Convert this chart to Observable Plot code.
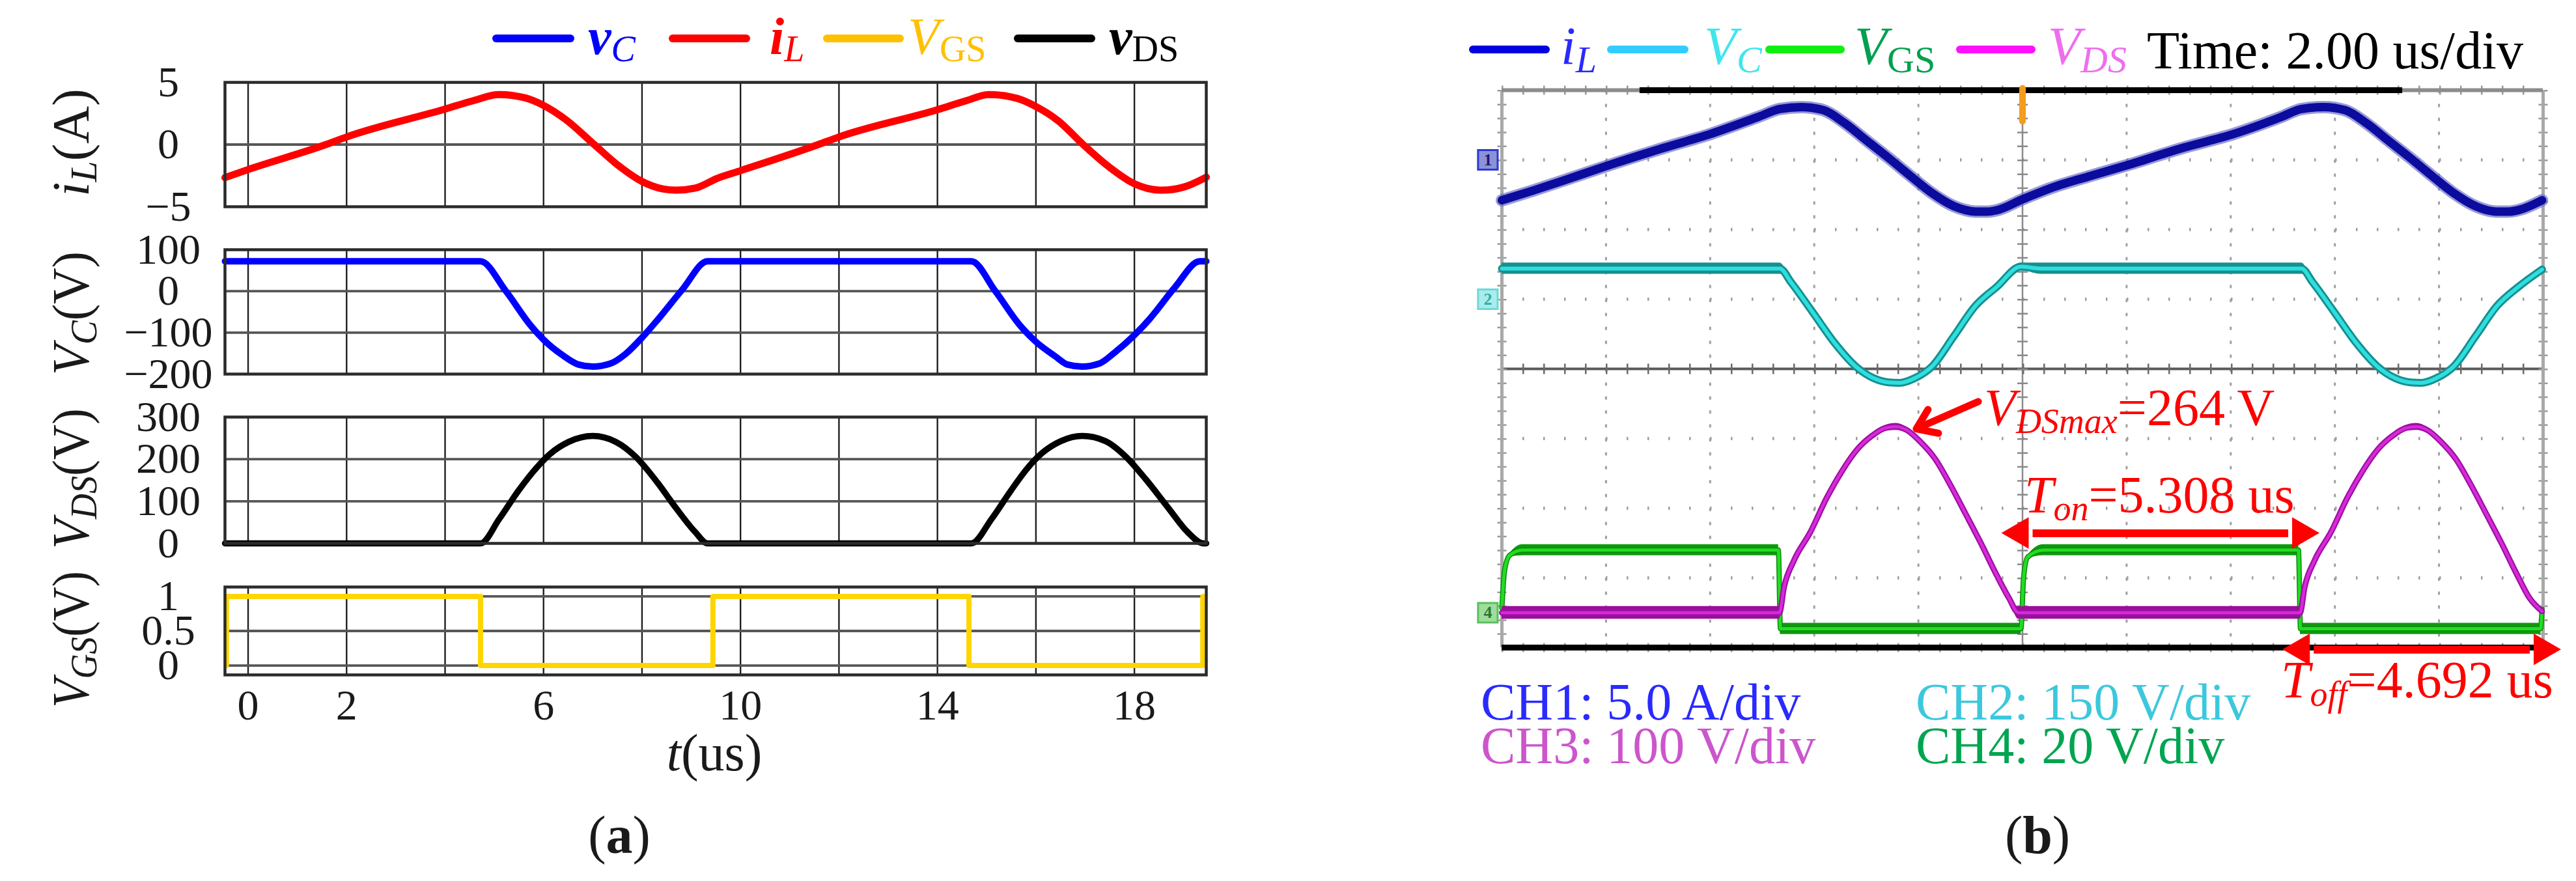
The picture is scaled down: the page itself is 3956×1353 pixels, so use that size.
<!DOCTYPE html>
<html><head><meta charset="utf-8">
<script src="https://cdn.jsdelivr.net/npm/d3@7"></script>
<script src="https://cdn.jsdelivr.net/npm/@observablehq/plot@0.6"></script>
<style>
html,body{margin:0;padding:0;background:#fff;}
#root{position:relative;width:3956px;height:1353px;overflow:hidden;background:#fff;}
#root > svg{position:absolute;left:0;top:0;}
</style></head><body><div id="root"></div>
<script>
// ---------------- DATA: (a) simulation ----------------
const simTDomain = [-0.47, 19.46];          // t (us)
const simGridT = [0, 2, 4, 6, 8, 10, 12, 14, 16, 18];
const simTickLabels = [0, 2, 6, 10, 14, 18];

const iLTicks = [-5, 0, 5];
const vCTicks = [-200, -100, 0, 100];
const vDSTicks = [0, 100, 200, 300];
const vGSTicks = [0, 0.5, 1];

// [t (us), value]
const iLSim = [[-0.47,-2.66],[0,-2.01],[1.58,0],[2,0.61],[4,2.85],[4.59,3.55],[5.1,4.02],[5.62,3.76],[6.0,3.15],[6.45,2.01],[7.03,0],[7.54,-1.75],[8.0,-2.97],[8.44,-3.58],[8.69,-3.67],[9.08,-3.5],[9.53,-2.71],[10.0,-2.1],[11.58,0],[12.0,0.61],[14.0,2.8],[14.59,3.53],[15.04,4.02],[15.62,3.71],[16.0,3.06],[16.45,1.92],[16.96,0],[17.47,-1.75],[18.0,-3.15],[18.56,-3.67],[19.01,-3.41],[19.46,-2.62]];
const vCSim = [[-0.47,72],[4.72,72],[5.23,1],[5.74,-83],[6.0,-117],[6.38,-154],[6.71,-177],[7.0,-182],[7.35,-175],[7.67,-151],[8.0,-112],[8.31,-70],[8.82,4],[9.33,72],[14.69,72],[15.17,1],[15.68,-83],[16.0,-122],[16.38,-156],[16.64,-177],[16.94,-182],[17.28,-175],[17.6,-148],[18.0,-106],[18.31,-67],[18.82,9],[19.33,72],[19.46,72]];
const vDSSim = [[-0.47,0],[4.72,0],[5.1,58],[5.49,125],[5.87,181],[6.13,212],[6.51,241],[7.0,255],[7.47,241],[7.86,207],[8.31,145],[8.69,84],[9.08,27],[9.33,0],[14.69,0],[15.1,58],[15.49,125],[15.81,176],[16.13,215],[16.51,243],[16.94,255],[17.41,243],[17.79,210],[18.24,151],[18.69,84],[19.08,27],[19.4,0],[19.46,0]];
const vGSSim = [[-0.44,0],[-0.44,1],[4.72,1],[4.72,0],[9.44,0],[9.44,1],[14.64,1],[14.64,0],[19.39,0],[19.39,1]];

// ---------------- DATA: (b) oscilloscope ----------------
const scopeTDomain = [0, 20];               // 2.00 us/div, 10 div
const scopeDivT = [2, 4, 6, 8, 12, 14, 16, 18];
const scopeDivY = [-3, -2, -1, 1, 2, 3];
const channels = {
  ch1: {scale: 5,   off: 3},     // iL, 5.0 A/div
  ch2: {scale: 150, off: 1},     // VC, 150 V/div
  ch3: {scale: 100, off: -3.5},  // VDS, 100 V/div
  ch4: {scale: 20,  off: -3.5}   // VGS, 20 V/div
};
// [t (us), value]
const iLScope = [[0,-2.9],[0.6,-2.2],[1.17,-1.5],[2.0,-0.45],[3.1,0.85],[4.0,1.85],[4.93,3.09],[5.34,3.65],[5.76,3.79],[6.18,3.56],[6.59,2.62],[7.01,1.37],[7.43,0.13],[7.84,-1.13],[8.26,-2.38],[8.68,-3.32],[9.09,-3.71],[9.3,-3.72],[9.51,-3.61],[9.99,-2.85],[10.51,-2.07],[11.26,-1.2],[12.04,-0.35],[13.07,0.85],[14.05,1.85],[14.95,3.05],[15.36,3.65],[15.79,3.79],[16.2,3.56],[16.61,2.62],[17.03,1.37],[17.45,0.13],[17.86,-1.13],[18.28,-2.38],[18.7,-3.32],[19.1,-3.71],[19.32,-3.72],[19.55,-3.58],[19.98,-2.9]];
// [t (us), value, noise half-width]
const vCScope = [[0,66,12],[5.34,66,12],[5.55,37,2],[5.97,-28,0],[6.39,-94,0],[6.8,-145,0],[7.14,-170,4],[7.43,-179,6],[7.64,-180,7],[7.93,-170,4],[8.26,-145,0],[8.68,-80,0],[9.09,-15,0],[9.51,27,0],[9.97,70,8],[10.35,66,12],[15.36,66,12],[15.57,37,2],[15.99,-28,0],[16.41,-94,0],[16.82,-145,0],[17.16,-170,4],[17.45,-179,6],[17.66,-180,7],[17.95,-170,4],[18.28,-145,0],[18.7,-80,0],[19.11,-15,0],[19.53,27,0],[19.98,64,6]];
const vDSScope = [[0,0,9],[5.33,0,9],[5.42,37,4],[5.61,75,0],[5.92,115,0],[6.24,165,0],[6.53,203,0],[6.82,234,0],[7.11,254,2],[7.36,265,4],[7.57,267,5],[7.78,262,4],[8.03,246,2],[8.32,221,0],[8.61,184,0],[8.9,143,0],[9.2,100,0],[9.49,56,0],[9.74,21,0],[9.92,0,9],[15.33,0,9],[15.42,37,4],[15.61,75,0],[15.92,115,0],[16.24,165,0],[16.53,203,0],[16.82,234,0],[17.11,254,2],[17.36,265,4],[17.57,267,5],[17.78,262,4],[18.03,246,2],[18.32,221,0],[18.61,184,0],[18.9,143,0],[19.2,100,0],[19.49,56,0],[19.74,21,0],[19.98,2,0]];
const vGSScope = [[0,1.4,0],[0.05,12,0],[0.15,16.5,0.5],[0.4,18,1.6],[5.31,18,1.6],[5.35,-4.6,1.6],[9.97,-4.6,1.6],[10.02,10,0],[10.1,16,0.5],[10.4,18,1.6],[15.3,18,1.6],[15.34,-4.6,1.6],[19.95,-4.6,1.6],[19.98,1,0]];

const topBar = [2.65, 17.3];                 // record indicator on top edge
const trigger = [{t: 10, d1: 3.55, d2: 4.02}];
const chMarkers = [
  {n: "1", t: -0.27, div: 3,    fill: "#8d92d6", stroke: "#2b3bd0", text: "#1a1a80"},
  {n: "2", t: -0.27, div: 1,    fill: "#a8ecec", stroke: "#6fd8d8", text: "#3aa"},
  {n: "4", t: -0.27, div: -3.5, fill: "#9fdc9f", stroke: "#5cbf5c", text: "#2a7a2a"}
];
const tonSpan = {t1: 9.95, t2: 15.36, div: -2.36};
const toffSpan = {t1: 15.35, t2: 20.0, div: -4.03};
const vdsMaxArrow = {t1: 9.15, d1: -0.47, t2: 7.96, d2: -0.86};

// ---------------- RENDER ----------------
const W = 3956, H = 1353;
const FONT = "'Liberation Serif','Times New Roman',Times,serif";
const root = document.getElementById("root");
const baseStyle = {background: "transparent", fontFamily: FONT, overflow: "visible", color: "#1a1a1a"};
const fmtMinus = d => (d < 0 ? "\u2212" : "") + Math.abs(d);

function simPlot(o) {
  const marks = [
    Plot.ruleX(simGridT, {stroke: "#1e1e1e", strokeWidth: 2.4}),
    Plot.ruleY(o.grid, {stroke: "#575757", strokeWidth: 3.8}),
    Plot.line(o.data, {x: d => d[0], y: d => d[1], stroke: o.color, strokeWidth: o.sw, curve: o.curve, strokeLinejoin: "round", strokeLinecap: "round"}),
    Plot.frame({stroke: "#2b2b2b", strokeWidth: 4.5}),
    Plot.axisY(o.ticks, {anchor: "left", tickSize: 0, tickPadding: 87, textAnchor: "middle", fontSize: 66, tickFormat: fmtMinus})
  ];
  if (o.xAxis) marks.push(Plot.axisX(simTickLabels, {anchor: "bottom", tickSize: 0, tickPadding: 22, fontSize: 66}));
  return Plot.plot({
    width: W, height: H,
    marginLeft: 345, marginRight: W - 1852, marginTop: o.top, marginBottom: H - o.bottom,
    x: {domain: simTDomain, axis: null},
    y: {domain: o.domain, axis: null},
    style: baseStyle,
    marks
  });
}

root.append(simPlot({data: iLSim, color: "#ff0000", sw: 11, curve: "monotone-x", domain: [-5, 5], ticks: iLTicks, grid: [0], top: 126, bottom: 317}));
root.append(simPlot({data: vCSim, color: "#0000ff", sw: 10, curve: "monotone-x", domain: [-200, 100], ticks: vCTicks, grid: [-100, 0], top: 383, bottom: 574}));
root.append(simPlot({data: vDSSim, color: "#000000", sw: 9.5, curve: "monotone-x", domain: [0, 300], ticks: vDSTicks, grid: [100, 200], top: 640, bottom: 834}));
root.append(simPlot({data: vGSSim, color: "#ffd500", sw: 8, curve: "linear", domain: [-0.136, 1.136], ticks: vGSTicks, grid: [0, 0.5, 1], top: 901, bottom: 1036, xAxis: true}));

// oscilloscope
const Y = c => d => c.off + d[1] / c.scale;
const Y1 = c => d => c.off + (d[1] - d[2]) / c.scale;
const Y2 = c => d => c.off + (d[1] + d[2]) / c.scale;
const X = d => d[0];
const C = channels;
const headR = 18, headOff = 27;
const heads = [
  {t: tonSpan.t1, div: tonSpan.div, rot: -90, dx: headOff},
  {t: tonSpan.t2, div: tonSpan.div, rot: 90, dx: -headOff},
  {t: toffSpan.t1, div: toffSpan.div, rot: -90, dx: headOff},
  {t: toffSpan.t2, div: toffSpan.div, rot: 90, dx: -headOff}
];

const scope = Plot.plot({
  width: W, height: H,
  marginLeft: 2306, marginRight: W - 3905, marginTop: 138, marginBottom: H - 994,
  x: {domain: scopeTDomain, axis: null},
  y: {domain: [-4, 4], axis: null},
  style: baseStyle,
  marks: [
    // graticule
    Plot.ruleX(scopeDivT, {stroke: "#a0a0a0", strokeWidth: 3, strokeDasharray: "5,16.4"}),
    Plot.ruleY(scopeDivY, {stroke: "#a0a0a0", strokeWidth: 5, strokeDasharray: "2.5,29.5"}),
    Plot.ruleX([10], {stroke: "#8a8a8a", strokeWidth: 2.5}),
    Plot.ruleY([0], {stroke: "#5a5a5a", strokeWidth: 4}),
    Plot.ruleY([0], {stroke: "#6a6a6a", strokeWidth: 16, strokeDasharray: "2.5,29.5"}),
    Plot.ruleX([10], {stroke: "#8a8a8a", strokeWidth: 16, strokeDasharray: "2.5,18.9"}),
    Plot.ruleY([4, -4], {stroke: "#999", strokeWidth: 14, strokeDasharray: "2.5,29.5"}),
    Plot.ruleX([0, 20], {stroke: "#999", strokeWidth: 14, strokeDasharray: "2.5,18.9"}),
    Plot.ruleX([0, 20], {stroke: "#a8a8a8", strokeWidth: 5}),
    Plot.ruleY([4], {stroke: "#8c8c8c", strokeWidth: 6}),
    Plot.ruleY([{y: 4, a: topBar[0], b: topBar[1]}], {y: "y", x1: "a", x2: "b", stroke: "#000", strokeWidth: 9}),
    Plot.ruleY([-4], {stroke: "#000", strokeWidth: 9}),
    // CH2 VC
    Plot.areaY(vCScope, {x: X, y1: Y1(C.ch2), y2: Y2(C.ch2), fill: "#178f8f", curve: "monotone-x"}),
    Plot.line(vCScope, {x: X, y: Y(C.ch2), stroke: "#168f8f", strokeWidth: 12, curve: "monotone-x"}),
    Plot.line(vCScope, {x: X, y: Y(C.ch2), stroke: "#2fdede", strokeWidth: 6, curve: "monotone-x"}),
    // CH1 iL
    Plot.line(iLScope, {x: X, y: Y(C.ch1), stroke: "#6e70c8", strokeWidth: 19, strokeOpacity: 0.7, curve: "monotone-x"}),
    Plot.line(iLScope, {x: X, y: Y(C.ch1), stroke: "#0b0b9e", strokeWidth: 13, curve: "monotone-x"}),
    // CH4 VGS
    Plot.areaY(vGSScope, {x: X, y1: Y1(C.ch4), y2: Y2(C.ch4), fill: "#0e9a0e", curve: "monotone-x"}),
    Plot.line(vGSScope, {x: X, y: Y(C.ch4), stroke: "#0c8a0c", strokeWidth: 8, curve: "monotone-x"}),
    Plot.line(vGSScope, {x: X, y: Y(C.ch4), stroke: "#22dd22", strokeWidth: 5, curve: "monotone-x"}),
    // CH3 VDS
    Plot.areaY(vDSScope, {x: X, y1: Y1(C.ch3), y2: Y2(C.ch3), fill: "#9a0f9a", curve: "monotone-x"}),
    Plot.line(vDSScope, {x: X, y: Y(C.ch3), stroke: "#9c10a4", strokeWidth: 9, curve: "monotone-x"}),
    Plot.line(vDSScope, {x: X, y: Y(C.ch3), stroke: "#d82ad8", strokeWidth: 4.5, curve: "monotone-x"}),
    // markers
    Plot.ruleX(trigger, {x: "t", y1: "d1", y2: "d2", stroke: "#f39c1f", strokeWidth: 10, strokeLinecap: "round"}),
    Plot.dot(chMarkers, {x: "t", y: "div", symbol: "square", r: 17, fill: "fill", stroke: "stroke", strokeWidth: 3}),
    Plot.text(chMarkers, {x: "t", y: "div", text: "n", fill: "text", fontSize: 26, fontWeight: "bold"}),
    // annotations
    Plot.ruleY([tonSpan, toffSpan], {y: "div", x1: "t1", x2: "t2", stroke: "#ff0000", strokeWidth: 12, insetLeft: 20, insetRight: 20}),
    Plot.dot(heads, {x: "t", y: "div", symbol: "triangle", r: headR, rotate: "rot", dx: "dx", fill: "#ff0000"}),
    Plot.arrow([vdsMaxArrow], {x1: "t1", y1: "d1", x2: "t2", y2: "d2", stroke: "#ff0000", strokeWidth: 11, headLength: 8, headAngle: 70})
  ]
});
root.append(scope);

// ---------------- TEXT OVERLAY ----------------
const ov = d3.create("svg").attr("width", W).attr("height", H).style("font-family", FONT).style("overflow", "visible");
const fitList = [];
function rich(x, y, parts, {size = 78, subSize = size * 0.72, shift = size * 0.15, anchor = "start", rotate = 0, fill = "#000", fit = 0} = {}) {
  const t = ov.append("text").attr("x", x).attr("y", y).attr("font-size", size).attr("fill", fill).attr("text-anchor", anchor);
  if (rotate) t.attr("transform", `rotate(${rotate},${x},${y})`);
  let cur = 0;
  for (const p of parts) {
    const want = p.sub ? shift : 0;
    const s = t.append("tspan").text(p.t);
    if (want !== cur) s.attr("dy", want - cur);
    cur = want;
    if (p.sub) s.attr("font-size", subSize);
    if (p.i) s.attr("font-style", "italic");
    if (p.b) s.attr("font-weight", "bold");
    if (p.fill) s.attr("fill", p.fill);
  }
  if (fit) fitList.push({t, x, y, rotate, fit});
  return t;
}
function legLine(x1, x2, y, color) {
  ov.append("line").attr("x1", x1).attr("x2", x2).attr("y1", y).attr("y2", y)
    .attr("stroke", color).attr("stroke-width", 12).attr("stroke-linecap", "round");
}
// (a) legend
legLine(762, 876, 59, "#0000ff");
rich(903, 83, [{t: "v", i: 1, b: 1}, {t: "C", i: 1, sub: 1}], {size: 80, subSize: 56, shift: 11, fill: "#0000ff"});
legLine(1033, 1146, 59, "#ff0000");
rich(1182, 83, [{t: "i", i: 1, b: 1}, {t: "L", i: 1, sub: 1}], {size: 80, subSize: 56, shift: 11, fill: "#ff0000"});
legLine(1270, 1382, 59, "#ffc000");
rich(1394, 83, [{t: "V", i: 1}, {t: "GS", sub: 1}], {size: 80, subSize: 56, shift: 11, fill: "#ffc000"});
legLine(1563, 1676, 59, "#000000");
rich(1703, 83, [{t: "v", i: 1, b: 1}, {t: "DS", sub: 1}], {size: 80, subSize: 56, shift: 11, fill: "#000"});

// (a) axis labels (rotated, fitted to their length in the reference)
const ylab = {size: 80, subSize: 58, shift: 12, anchor: "middle", rotate: -90, fill: "#1a1a1a"};
rich(136, 219, [{t: "i", i: 1}, {t: "L", i: 1, sub: 1}, {t: "(A)"}], {...ylab, fit: 185});
rich(136, 481, [{t: "V", i: 1}, {t: "C", i: 1, sub: 1}, {t: "(V)"}], {...ylab, fit: 190});
rich(136, 735, [{t: "V", i: 1}, {t: "DS", i: 1, sub: 1}, {t: "(V)"}], {...ylab, fit: 216});
rich(136, 982, [{t: "V", i: 1}, {t: "GS", i: 1, sub: 1}, {t: "(V)"}], {...ylab, fit: 210});
rich(1097, 1183, [{t: "t", i: 1}, {t: "(us)"}], {size: 80, anchor: "middle", fill: "#1a1a1a"});
rich(951, 1310, [{t: "("}, {t: "a", b: 1}, {t: ")"}], {size: 82, anchor: "middle", fill: "#1a1a1a"});
rich(3129, 1310, [{t: "("}, {t: "b", b: 1}, {t: ")"}], {size: 82, anchor: "middle", fill: "#1a1a1a"});

// (b) legend
legLine(2262, 2374, 76, "#0000e0");
rich(2397, 98, [{t: "i", i: 1}, {t: "L", i: 1, sub: 1}], {size: 82, subSize: 58, shift: 13, fill: "#2a2aff"});
legLine(2474, 2587, 76, "#33ccff");
rich(2617, 98, [{t: "V", i: 1}, {t: "C", i: 1, sub: 1}], {size: 82, subSize: 58, shift: 13, fill: "#3fe6ee"});
legLine(2717, 2827, 76, "#11ee11");
rich(2848, 98, [{t: "V", i: 1}, {t: "GS", sub: 1}], {size: 82, subSize: 58, shift: 13, fill: "#00a050"});
legLine(3010, 3120, 76, "#ff11ff");
rich(3145, 98, [{t: "V", i: 1}, {t: "DS", i: 1, sub: 1}], {size: 82, subSize: 58, shift: 13, fill: "#ee6eee"});
rich(3297, 105, [{t: "Time: 2.00 us/div"}], {size: 82, fill: "#000"});

// (b) annotations
const red = "#ff0000";
rich(3047, 653, [{t: "V", i: 1}, {t: "DSmax", i: 1, sub: 1}, {t: "=264 V"}], {size: 80, subSize: 54, shift: 12, fill: red});
rich(3109, 787, [{t: "T", i: 1}, {t: "on", i: 1, sub: 1}, {t: "=5.308 us"}], {size: 80, subSize: 54, shift: 12, fill: red});
rich(3503, 1071, [{t: "T", i: 1}, {t: "off", i: 1, sub: 1}, {t: "=4.692 us"}], {size: 80, subSize: 54, shift: 13, fill: red});
rich(2274, 1105, [{t: "CH1: 5.0 A/div"}], {size: 80, fill: "#2a2aff"});
rich(2274, 1172, [{t: "CH3: 100 V/div"}], {size: 80, fill: "#cc55cc"});
rich(2942, 1105, [{t: "CH2: 150 V/div"}], {size: 80, fill: "#3cc8dc"});
rich(2942, 1172, [{t: "CH4: 20 V/div"}], {size: 80, fill: "#00a550"});

root.append(ov.node());
// compress rotated labels along their reading direction to the reference length
for (const f of fitList) {
  const w = f.t.node().getBBox().width;
  const k = Math.min(1, f.fit / w);
  f.t.attr("transform", `rotate(${f.rotate},${f.x},${f.y}) translate(${f.x},${f.y}) scale(${k},1) translate(${-f.x},${-f.y})`);
}
</script></body></html>
